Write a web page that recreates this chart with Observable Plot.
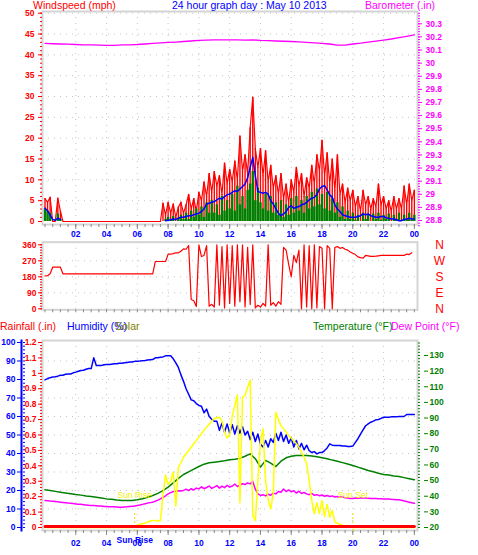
<!DOCTYPE html>
<html>
<head>
<meta charset="utf-8">
<script src="https://cdn.jsdelivr.net/npm/d3@7"></script>
<script src="https://cdn.jsdelivr.net/npm/@observablehq/plot@0.6"></script>
<style>
  body { margin: 0; background: #fff; }
  #chart { position: relative; width: 478px; height: 555px; overflow: hidden; background: #fff;
           font-family: "Liberation Sans", Arial, sans-serif; }
  #chart svg { position: absolute; left: 0; top: 0; }
  .hdr { position: absolute; font-size: 10.5px; line-height: 11px; white-space: nowrap; z-index: 5; }
</style>
</head>
<body>
<div id="chart">
  <div class="hdr" style="left:33px;top:0px;color:#ff0000">Windspeed (mph)</div>
  <div class="hdr" style="left:172px;top:0px;color:#0000ff">24 hour graph day : May 10 2013</div>
  <div class="hdr" style="left:365px;top:0px;color:#ff00ff">Barometer (.in)</div>
  <div class="hdr" style="left:0px;top:321px;color:#ff0000">Rainfall (.in)</div>
  <div class="hdr" style="left:67px;top:321px;color:#0000ff">Humidity (%)</div>
  <div class="hdr" style="left:115px;top:321px;color:#808000">Solar</div>
  <div class="hdr" style="left:313px;top:321px;color:#008000">Temperature (°F)</div>
  <div class="hdr" style="left:391px;top:321px;color:#ff00ff">Dew Point (°F)</div>
</div>
<script>
// ---- 10-minute samples, midnight to midnight (145 values) ----
const windGust = [
  5.5, 4.6, 5.8, 0, 0, 5.6, 2.5,
  0, 0, 0, 0, 0, 0, 0, 0, 0, 0, 0, 0, 0, 0, 0, 0, 0, 0, 0, 0,
  0, 0, 0, 0, 0, 0, 0, 0, 0, 0, 0, 0, 0, 0, 0, 0, 0, 0, 0,
  4.4, 1.5, 4.6, 2.0, 4.2, 1.0, 3.5, 4.6, 2.0,
  4.0, 6.5, 3.0, 5.5, 2.5, 7.0,
  5.0, 9.5, 6.0, 11.5, 7.0, 12.0,
  8.5, 11.0, 6.5, 14.0, 9.0, 12.5,
  9.5, 14.5, 10.0, 20.5, 12.0, 16.0,
  11.5, 22.5, 29.8, 17.5, 13.0, 17.5,
  11.0, 17.0, 9.5, 13.5, 8.0, 11.0,
  6.5, 11.5, 5.5, 9.0, 4.5, 10.0,
  7.0, 13.0, 8.5, 11.5, 6.0, 10.5,
  8.0, 13.5, 9.0, 16.0, 12.0, 19.5,
  11.0, 16.5, 9.0, 15.0, 7.5, 16.0,
  6.5, 9.0, 4.5, 8.0, 5.0, 7.5,
  3.5, 6.0, 2.5, 7.5, 4.0, 6.0,
  3.0, 5.5, 3.5, 9.0, 4.0, 6.0,
  3.0, 5.0, 2.5, 6.0, 3.0, 5.5,
  3.0, 8.5, 4.0, 9.0, 5.0, 7.5
];
const windSpeed = [
  3.0, 2.5, 2.0, 0, 0, 1.8, 0.5,
  0, 0, 0, 0, 0, 0, 0, 0, 0, 0, 0, 0, 0, 0, 0, 0, 0, 0, 0, 0,
  0, 0, 0, 0, 0, 0, 0, 0, 0, 0, 0, 0, 0, 0, 0, 0, 0, 0, 0,
  0, 0.5, 1.0, 0.3, 1.2, 0, 0.8, 1.5, 0.5,
  2.0, 0.5, 2.5, 1.0, 3.0, 1.5,
  3.5, 1.0, 4.5, 2.0, 5.0, 2.0,
  4.0, 1.5, 6.0, 2.5, 5.0, 3.0,
  6.5, 2.5, 8.5, 4.0, 6.0, 3.0,
  7.5, 9.0, 12.0, 5.0, 8.0, 4.5,
  3.0, 6.5, 2.5, 6.0, 2.0, 4.5,
  1.5, 5.0, 1.0, 4.0, 1.5, 5.5,
  2.0, 6.0, 2.5, 5.0, 2.0, 6.0,
  3.0, 7.0, 3.5, 7.8, 4.0, 6.5,
  3.0, 7.0, 2.5, 5.5, 2.0, 4.5,
  1.0, 3.5, 0.5, 2.5, 0.5, 2.0,
  0.3, 1.5, 0, 2.0, 0.5, 1.5,
  0, 1.8, 0.5, 2.0, 0.3, 1.5,
  0.5, 1.8, 0, 1.5, 0.5, 2.0,
  0.3, 1.5, 0.5, 2.0, 0.3, 1.5
];
// average wind; null where the anemometer reported calm
const windAvg = [
  3.2, 2.6, 1.5, 0.5, 0.3, 0.8, 0.5,
  null, null, null, null, null, null, null, null, null, null,
  null, null, null, null, null, null, null, null, null, null,
  null, null, null, null, null, null, null, null, null, null,
  null, null, null, null, null, null, null, null, null, null,
  0.2, 0.3, 0.4, 0.6, 0.5, 0.8, 1.0, 1.0,
  1.2, 1.4, 1.4, 1.6, 1.8, 2.0,
  2.4, 3.0, 4.2, 4.4, 4.6, 4.8,
  5.2, 5.6, 5.4, 6.0, 6.4, 6.6,
  7.0, 7.4, 7.2, 7.8, 8.4, 9.0,
  10.5, 13.0, 15.4, 11.0, 7.2, 7.0,
  6.8, 7.0, 6.6, 5.0, 4.2, 3.0,
  2.0, 1.4, 1.8, 2.4, 3.4, 3.8,
  3.2, 3.4, 3.6, 4.0, 4.2, 4.6,
  5.2, 5.6, 5.8, 6.5, 7.8, 8.4,
  8.6, 7.6, 6.4, 5.8, 4.0, 3.0,
  2.4, 1.6, 1.4, 1.2, 1.0, 1.0,
  1.0, 1.2, 1.4, 1.8, 1.6, 1.8,
  1.4, 1.2, 1.0, 1.0, 1.2, 1.2,
  0.9, 0.8, 0.6, 0.6, 0.4, 0.2,
  0.2, 0.5, 0.6, 0.8, 0.6, 0.6
];
const windDir = [
  185, 186, 197, 234, 234, 234, 234,
  197, 197, 197, 197, 197, 197, 197, 197, 197, 197, 197, 197, 197,
  197, 197, 197, 197, 197, 197, 197, 197, 197, 197, 197, 197, 197,
  197, 197, 197, 197, 197, 197, 197, 197, 197, 197,
  266, 266, 266, 266, 266,
  307, 307, 310, 315, 315, 324,
  337, 335, 356, 52, 45, 13,
  360, 294, 300, 355, 15, 25,
  10, 360, 20, 350, 5, 360,
  30, 355, 15, 360, 40, 360,
  10, 345, 25, 360, 5, 20,
  10, 30, 15, 360, 20, 35,
  15, 40, 25, 345, 330, 250,
  180, 300, 260, 330, 0, 360,
  10, 355, 0, 360, 5, 350,
  340, 0, 355, 340, 0, 345,
  350, 340, 345, 335, 330, 320,
  312, 305, 292, 288, 285, 300,
  298, 295, 295, 296, 298, 300,
  300, 300, 300, 300, 301, 300,
  300, 300, 300, 308, 305, 315
];
const humidity = [
  79.8, 80.5, 81.0, 81.3, 81.5, 81.8, 82.3,
  82.3, 82.8, 83.0, 83.0, 83.6, 84.0,
  84.5, 84.9, 85.0, 85.5, 85.9, 85.9,
  91.7, 87.6, 87.6, 87.6, 88.0, 88.1,
  88.1, 88.3, 88.5, 88.5, 88.8, 88.8,
  89.0, 89.2, 89.4, 89.5, 89.8, 89.9,
  90.0, 90.2, 90.3, 90.5, 90.7, 90.8,
  91.7, 91.7, 92.0, 92.2, 92.8, 92.8,
  92.8, 91.2, 89.0, 86.5, 82.5, 79.0,
  75.0, 72.0, 69.0, 68.5, 67.0, 66.0,
  65.5, 62.0, 64.0, 60.0, 58.5, 57.5,
  57.5, 52.5, 56.5, 51.5, 56.0, 51.0,
  55.5, 50.5, 55.0, 51.0, 54.5, 50.0,
  52.0, 47.5, 51.5, 46.5, 50.5, 45.0,
  43.5, 47.0, 43.5, 48.0, 46.0, 51.0,
  47.0, 51.5, 46.5, 50.0, 45.5, 48.5,
  43.5, 47.0, 42.5, 45.5, 42.0, 44.5,
  41.5, 40.5, 41.0, 39.8, 40.5, 40.5,
  41.6, 43.0, 45.2, 44.5, 44.3, 44.3,
  44.3, 44.0, 44.0, 43.8, 43.8, 44.0,
  46.0, 48.0, 50.5, 52.8, 55.0, 56.0,
  56.9, 57.5, 58.2, 58.4, 59.0, 59.6,
  59.6, 59.6, 59.8, 59.8, 59.8, 60.0,
  60.0, 60.0, 61.1, 61.1, 61.1, 61.1
];
const dewPoint = [
  37.3, 37.1, 36.9, 36.8, 36.6, 36.4, 36.2,
  36.0, 35.8, 35.6, 35.5, 35.3, 35.1,
  34.9, 34.8, 34.6, 34.4, 34.2, 34.1,
  34.0, 33.9, 33.8, 33.7, 33.5, 33.4,
  33.3, 33.2, 33.2, 33.1, 33.0, 33.0,
  33.1, 33.2, 33.4, 33.6, 33.8, 34.1,
  34.4, 34.8, 35.2, 35.6, 35.9, 36.2,
  36.8, 37.5, 38.3, 39.2, 40.3, 41.5,
  42.3, 43.0, 43.2, 43.5, 43.4, 43.7,
  44.5, 43.6, 44.8, 44.0, 45.2, 44.7,
  46.0, 44.8, 45.6, 46.5, 45.0, 45.8,
  46.8, 45.2, 46.4, 45.5, 47.0, 45.8,
  46.5, 47.8, 46.2, 47.0, 48.0, 47.5,
  48.5, 47.9, 49.5, 44.5, 41.5, 40.5,
  41.0, 40.2, 41.3, 40.6, 42.0, 41.5,
  43.0, 42.5, 44.6, 43.0, 44.0, 42.8,
  43.5, 42.0, 43.2, 41.8, 42.4, 41.5,
  41.0, 41.8, 40.6, 41.0, 40.3, 40.8,
  40.0, 40.5, 39.8, 40.2, 39.5, 39.8,
  39.3, 39.6, 39.0, 38.8, 38.6, 38.6,
  38.8, 38.7, 38.8, 38.9, 38.8, 38.7,
  38.6, 38.5, 38.5, 38.4, 38.4, 38.3,
  38.3, 38.2, 38.0, 37.9, 37.8, 37.7,
  37.4, 37.0, 36.6, 36.2, 35.8, 35.5
];
// solar radiation, W/m²
const solar = [
  0, 0, 0, 0, 0, 0, 0, 0, 0, 0, 0, 0, 0, 0, 0, 0, 0, 0,
  0, 0, 0, 0, 0, 0, 0, 0, 0, 0, 0, 0, 0, 0, 0, 0, 0,
  5, 15, 22, 25, 28, 35, 42, 45,
  45, 42, 45, 210, 340, 280,
  300, 360, 140, 390, 420, 456,
  478, 500, 521, 543, 565, 586,
  608, 630, 651, 670, 690, 705,
  712, 715, 690, 620, 580, 600,
  720, 790, 860, 160, 845, 856,
  910, 955, 80, 45, 300, 560,
  640, 300, 180, 120, 220, 748,
  700, 660, 640, 620, 595, 580,
  560, 545, 520, 490, 456, 413,
  305, 175, 89, 160, 90, 175,
  70, 150, 67, 110, 35, 28,
  20, 15, 11, 6, 2, 0,
  0, 0, 0, 0, 0, 0, 0, 0, 0, 0, 0, 0,
  0, 0, 0, 0, 0, 0, 0, 0, 0, 0, 0, 0
];

// ---- 20-minute samples (73 values) ----
const temperature = [
  44.1, 43.6, 43.1, 42.6, 42.1, 41.6, 41.1, 40.7, 40.2, 39.8,
  39.3, 38.8, 38.3, 38.0, 37.6, 37.3, 37.2, 37.3, 37.7, 38.4,
  39.3, 40.5, 41.8, 43.6, 45.8, 48.5, 51.4, 53.9, 55.6, 57.3,
  59.0, 60.5, 61.4, 61.8, 62.2, 62.7, 63.3, 63.6, 64.2, 65.6,
  67.1, 64.0, 58.6, 62.9, 61.2, 59.0, 62.4, 64.6, 65.6, 66.0,
  66.1, 66.1, 65.7, 65.2, 64.6, 63.9, 63.1, 62.4, 61.5, 60.6,
  59.7, 58.6, 57.6, 56.5, 55.6, 54.7, 53.9, 53.5, 53.0, 52.6,
  51.9, 51.2, 50.5
];

// ---- 30-minute samples (49 values) ----
const barometer = [
  30.150, 30.148, 30.146, 30.145, 30.142, 30.140, 30.139, 30.137, 30.135, 30.136,
  30.139, 30.140, 30.142, 30.146, 30.150, 30.154, 30.158, 30.161, 30.165, 30.169,
  30.173, 30.175, 30.177, 30.178, 30.177, 30.178, 30.176, 30.177, 30.173, 30.171,
  30.169, 30.167, 30.165, 30.162, 30.158, 30.154, 30.150, 30.146, 30.138, 30.138,
  30.146, 30.152, 30.160, 30.168, 30.176, 30.184, 30.194, 30.204, 30.215
];

// ---- hourly rain total (.in) ----
const rainfall = [0, 0, 0, 0, 0, 0, 0, 0, 0, 0, 0, 0, 0, 0, 0, 0, 0, 0, 0, 0, 0, 0, 0, 0, 0];

// ---- sun events (hours) ----
const sunHours = [5.83, 20.0];
const sunLabels = ["Sun Rise", "Sun Set"];

// ---- ticks and labels ----
const hourTicks = [2, 4, 6, 8, 10, 12, 14, 16, 18, 20, 22, 24];
const hourLabels = ["02", "04", "06", "08", "10", "12", "14", "16", "18", "20", "22", "00"];
const windTicks = [0, 5, 10, 15, 20, 25, 30, 35, 40, 45, 50];
const baroTicks = [28.8, 28.9, 29, 29.1, 29.2, 29.3, 29.4, 29.5, 29.6, 29.7, 29.8, 29.9, 30, 30.1, 30.2, 30.3];
const dirTicks = [0, 90, 180, 270, 360];
const compassLabels = ["N", "E", "S", "W", "N"];
const humidityTicks = [0, 10, 20, 30, 40, 50, 60, 70, 80, 90, 100];
const rainTicks = [0, 0.1, 0.2, 0.3, 0.4, 0.5, 0.6, 0.7, 0.8, 0.9, 1, 1.1, 1.2];
const tempTicks = [20, 30, 40, 50, 60, 70, 80, 90, 100, 110, 120, 130];

// ---- rows ----
const tenMin = windGust.map((g, i) => ({
  h: i / 6, gust: g, speed: windSpeed[i], avg: windAvg[i], dir: windDir[i],
  hum: humidity[i], dew: dewPoint[i], solar: solar[i]
}));
const twentyMin = temperature.map((t, i) => ({h: i / 3, temp: t}));
const halfHour = barometer.map((b, i) => ({h: i / 2, baro: b}));
const hourly = rainfall.map((r, i) => ({h: i, rain: r}));
const sunRows = sunHours.map((h, i) => ({h, label: sunLabels[i]}));

// ---- layout ----
const W = 478, H = 555;
const FRAME_L = 42, FRAME_R = 417;
const xDomain = [-0.162, 24.204];
const FONT = "'Liberation Sans', Arial, sans-serif";
const GRID = "#c4c4c4", FRAMEC = "#d4d4d4", TICKC = "#8a8a8a";
const chart = document.getElementById("chart");

function layer(top, bottom, yDomain, marks) {
  const svg = Plot.plot({
    width: W, height: H,
    marginLeft: FRAME_L, marginRight: W - FRAME_R,
    marginTop: top, marginBottom: H - bottom,
    x: {domain: xDomain, axis: null},
    y: {domain: yDomain, axis: null},
    style: `background: transparent; font-family: ${FONT}; overflow: visible;`,
    marks
  });
  chart.appendChild(svg);
}
const tickAxisY = (anchor, ticks, size, color, dx = 0) =>
  Plot.axisY({anchor, ticks, tickSize: size, tickFormat: () => "", color, dx, label: null});
const textAxisY = (anchor, ticks, color, pad, dx = 0) =>
  Plot.axisY({anchor, ticks, tickSize: 4, tickPadding: pad, tickFormat: d => String(d), color, dx,
              label: null, fontSize: 8.5, fontWeight: "bold"});
const hourAxisMarks = (pad) => [
  Plot.axisX({anchor: "bottom", ticks: d3.range(0, 24.01, 0.5), tickSize: 3, tickFormat: () => "", color: TICKC, label: null}),
  Plot.axisX({anchor: "bottom", ticks: hourTicks, tickSize: 5, tickFormat: () => "", color: TICKC, label: null}),
  Plot.axisX({anchor: "bottom", ticks: hourTicks, tickSize: 0, tickPadding: pad,
              tickFormat: d => hourLabels[hourTicks.indexOf(d)], color: "#0000ff",
              label: null, fontSize: 8.5, fontWeight: "bold"})
];
const hourGrid = Plot.ruleX(hourTicks.slice(0, -1), {stroke: GRID, strokeDasharray: "1,5"});

// ---- panel 1: wind speed / gust / average ----
layer(11, 224, [-0.72, 50.41], [
  Plot.ruleY(windTicks.slice(1), {stroke: GRID, strokeDasharray: "1,5"}),
  hourGrid,
  Plot.frame({stroke: FRAMEC, strokeWidth: 2}),
  Plot.ruleX(tenMin, {x: "h", y1: 0, y2: "gust", stroke: "#ff0000", strokeWidth: 1.4}),
  Plot.line(tenMin, {x: "h", y: "gust", stroke: "#ff0000", strokeWidth: 1.2}),
  Plot.ruleX(tenMin, {x: "h", y1: 0, y2: "speed", stroke: "#008000", strokeWidth: 2.4}),
  Plot.line(tenMin, {x: "h", y: "avg", stroke: "#0000ff", strokeWidth: 1.5}),
  tickAxisY("left", d3.range(0, 50.5, 1), 2, "#ff0000"),
  textAxisY("left", windTicks, "#ff0000", 4),
  ...hourAxisMarks(6)
]);
// barometer on its own scale, same frame
layer(11, 224, [28.7695, 30.3938], [
  Plot.line(halfHour, {x: "h", y: "baro", stroke: "#ff00ff", strokeWidth: 1.3}),
  tickAxisY("right", d3.range(28.76, 30.4, 0.02), 2, "#ff00ff"),
  textAxisY("right", baroTicks, "#ff00ff", 4)
]);

// ---- panel 2: wind direction ----
layer(241.7, 309.3, [-5.6, 374.6], [
  Plot.ruleY([90, 180, 270], {stroke: GRID, strokeDasharray: "1,5"}),
  hourGrid,
  Plot.frame({stroke: FRAMEC, strokeWidth: 2}),
  Plot.line(tenMin, {x: "h", y: "dir", stroke: "#ff0000", strokeWidth: 1.2}),
  tickAxisY("left", d3.range(0, 361, 15), 2, "#ff0000"),
  textAxisY("left", dirTicks, "#ff0000", 2),
  Plot.text(dirTicks, {y: d => d, text: (d, i) => compassLabels[i], frameAnchor: "right", dx: 22,
                       fill: "#ff0000", fontSize: 12, textAnchor: "middle"}),
  Plot.axisX({anchor: "bottom", ticks: d3.range(0, 24.01, 0.5), tickSize: 3, tickFormat: () => "", color: TICKC, label: null})
]);

// ---- panel 3: humidity ----
layer(340, 530, [-1.62, 101.08], [
  Plot.ruleY(humidityTicks.slice(1, -1), {stroke: GRID, strokeDasharray: "1,5"}),
  hourGrid,
  Plot.frame({stroke: FRAMEC, strokeWidth: 2}),
  Plot.line(tenMin, {x: "h", y: "hum", stroke: "#0000ff", strokeWidth: 1.5}),
  Plot.frame({anchor: "left", stroke: "#0000ff", strokeWidth: 2, dx: -21}),
  tickAxisY("left", d3.range(0, 101, 2), 2, "#0000ff", -17),
  textAxisY("left", humidityTicks, "#0000ff", 2, -21),
  ...hourAxisMarks(9),
  Plot.text(sunRows.slice(0, 1), {x: "h", text: "label", frameAnchor: "bottom", dy: 12,
                                  fill: "#0000ff", fontSize: 8.5, fontWeight: "bold"})
]);
// temperature and dew point
layer(340, 530, [18.08, 139.59], [
  Plot.line(twentyMin, {x: "h", y: "temp", stroke: "#008000", strokeWidth: 1.5}),
  Plot.line(tenMin, {x: "h", y: "dew", stroke: "#ff00ff", strokeWidth: 1.5}),
  tickAxisY("right", d3.range(20, 139, 2), 2, "#008000"),
  textAxisY("right", tempTicks, "#008000", 2, 6)
]);
// solar radiation with sunrise / sunset markers
layer(340, 530, [-19.5, 1213], [
  Plot.ruleX(sunRows, {x: "h", y1: 90, y2: -40, stroke: "#e0e000", strokeDasharray: "2,2"}),
  Plot.line(tenMin, {x: "h", y: "solar", stroke: "#ffff00", strokeWidth: 1.5}),
  Plot.text(sunRows, {x: "h", text: "label", frameAnchor: "bottom", dy: -33, fill: "#f0f000", fontSize: 8.5})
]);
// rainfall
layer(340, 530, [-0.0195, 1.213], [
  Plot.line(hourly, {x: "h", y: "rain", stroke: "#ff0000", strokeWidth: 3, dy: -1}),
  tickAxisY("left", d3.range(0, 1.21, 0.02), 2, "#ff0000"),
  textAxisY("left", rainTicks, "#ff0000", 2)
]);
</script>
</body>
</html>
